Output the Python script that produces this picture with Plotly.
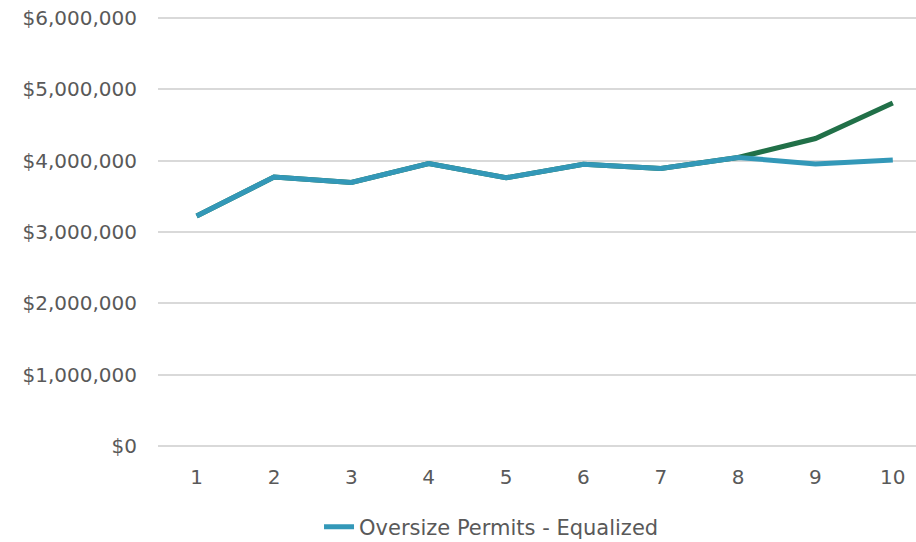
import plotly.graph_objects as go

periods = [1, 2, 3, 4, 5, 6, 7, 8, 9, 10]
equalized = [3225000, 3770000, 3695000, 3960000, 3760000, 3950000, 3890000, 4045000, 3955000, 4010000]
projected = [3225000, 3770000, 3695000, 3960000, 3760000, 3950000, 3890000, 4045000, 4310000, 4808000]
y_ticks = [0, 1000000, 2000000, 3000000, 4000000, 5000000, 6000000]
y_labels = ["$0", "$1,000,000", "$2,000,000", "$3,000,000", "$4,000,000", "$5,000,000", "$6,000,000"]

text_color = "#595959"
font_family = "DejaVu Sans"

fig = go.Figure()
fig.add_trace(go.Scatter(
    x=periods, y=projected, mode="lines", name="Projected",
    line=dict(color="#217048", width=5), showlegend=False, hoverinfo="skip",
))
fig.add_trace(go.Scatter(
    x=periods, y=equalized, mode="lines", name="Oversize Permits - Equalized",
    line=dict(color="#3398B8", width=5),
))

fig.update_layout(
    width=916, height=542,
    margin=dict(l=158, r=0, t=15, b=93, autoexpand=False),
    paper_bgcolor="white", plot_bgcolor="white",
    font=dict(family=font_family, size=20, color=text_color),
    showlegend=True,
    legend=dict(
        orientation="h", x=0.44, xanchor="center", y=-0.18, yanchor="middle",
        font=dict(family=font_family, size=21, color=text_color),
        bgcolor="rgba(0,0,0,0)",
    ),
)
fig.update_xaxes(
    range=[0.5, 10.3], tickmode="array", tickvals=periods,
    ticktext=[str(p) for p in periods],
    showgrid=False, zeroline=False, showline=False, ticks="",
    ticklabelstandoff=14,
    tickfont=dict(family=font_family, size=20, color=text_color),
)
fig.update_yaxes(
    range=[-42000, 6042000], tickmode="array", tickvals=y_ticks, ticktext=y_labels,
    showgrid=True, gridcolor="#D9D9D9", gridwidth=1.5,
    zeroline=False, showline=False, ticks="",
    ticklabelstandoff=20,
    tickfont=dict(family=font_family, size=20, color=text_color),
)

fig.write_html(
    "out.html",
    config={"displayModeBar": False},
    post_script="document.body.style.margin='0';document.body.style.overflow='hidden';",
)
